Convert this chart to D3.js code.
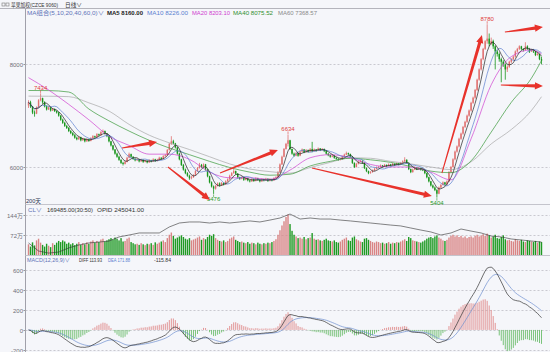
<!DOCTYPE html>
<html lang="zh">
<head>
<meta charset="UTF-8">
<title>苹果加权 日线</title>
<style>
  body { margin: 0; background: #f5f6fa; }
  svg { display: block; font-family: "Liberation Sans", "Noto Sans CJK SC", sans-serif; }
</style>
</head>
<body>
<script src="https://d3js.org/d3.v7.min.js"></script>
<script>
// daily bars (yuan/ton), 256 sessions
const open = [
  7200,7260,7180,7060,7040,7160,7300,7340,7260,7180,7120,7160,7100,7130,7090,7060,7000,6920,6860,6800,
  6760,6700,6660,6620,6570,6540,6580,6520,6550,6500,6540,6510,6560,6600,6580,6640,6620,6680,6700,6650,
  6600,6500,6420,6340,6260,6200,6140,6080,6060,6100,6180,6250,6200,6160,6130,6150,6110,6140,6100,6120,
  6090,6130,6110,6150,6120,6140,6180,6160,6210,6230,6330,6450,6500,6460,6380,6260,6150,6040,5950,5880,
  5830,5780,5800,5840,5920,5980,6040,6000,6050,5950,5820,5700,5620,5580,5630,5680,5640,5690,5660,5720,
  5760,5830,5880,5920,5870,5800,5770,5800,5750,5780,5740,5720,5760,5730,5780,5750,5720,5760,5740,5770,
  5730,5760,5740,5780,5800,5900,6050,6200,6350,6450,6520,6350,6260,6220,6270,6220,6300,6340,6290,6330,
  6300,6350,6310,6340,6320,6360,6330,6350,6310,6260,6230,6200,6220,6180,6160,6140,6150,6200,6240,6270,
  6250,6200,6080,6000,6060,6100,6120,6080,5980,5920,5880,5900,5930,5960,5990,6000,6030,6010,6040,6020,
  6050,6030,6060,6040,6070,6050,6080,6110,6140,6080,5960,5900,5950,5990,5960,5980,5950,5940,5880,5800,
  5720,5640,5600,5550,5480,5600,5650,5700,5660,5720,5900,6000,6150,6300,6400,6550,6650,6780,6880,7000,
  7100,7250,7350,7500,7700,7900,8100,8300,8450,8500,8400,8450,8350,8250,8200,8100,8050,8000,7900,7950,
  8050,8100,8150,8250,8300,8350,8300,8280,8350,8300,8250,8280,8250,8180,8200,8100
];
const high = [
  7300,7290,7190,7100,7180,7320,7434,7350,7280,7200,7180,7170,7150,7140,7100,7070,7010,6940,6880,6820,
  6780,6720,6680,6640,6590,6600,6590,6570,6560,6560,6550,6580,6620,6610,6660,6650,6700,6730,6710,6660,
  6610,6510,6430,6350,6280,6220,6150,6100,6120,6200,6280,6260,6210,6170,6170,6160,6160,6150,6140,6130,
  6150,6140,6170,6160,6160,6200,6190,6230,6250,6350,6470,6600,6530,6470,6390,6280,6160,6060,5970,5900,
  5850,5830,5860,5940,6000,6080,6060,6070,6060,5960,5830,5720,5640,5650,5700,5700,5710,5700,5740,5780,
  5850,5900,5960,5930,5880,5810,5820,5810,5800,5790,5750,5780,5770,5800,5790,5760,5780,5770,5790,5780,
  5780,5770,5800,5820,5920,6070,6220,6370,6470,6634,6530,6360,6280,6290,6280,6320,6360,6350,6350,6340,
  6370,6490,6360,6350,6380,6370,6370,6360,6320,6270,6240,6240,6230,6190,6170,6170,6220,6260,6300,6280,
  6260,6210,6090,6080,6120,6140,6130,6090,5990,5930,5920,5950,5980,6010,6020,6050,6040,6060,6050,6070,
  6060,6080,6070,6090,6080,6100,6130,6190,6150,6090,5970,5970,6010,6000,6000,5990,5970,5950,5890,5810,
  5730,5660,5620,5570,5620,5670,5720,5710,5740,5920,6020,6170,6320,6420,6570,6670,6800,6900,7020,7120,
  7270,7370,7520,7720,7920,8120,8320,8470,8780,8600,8520,8480,8370,8280,8230,8130,8080,8020,7980,8070,
  8120,8170,8270,8320,8370,8360,8310,8430,8370,8320,8300,8290,8260,8230,8210,8150
];
const low = [
  7150,7150,7030,6980,7030,7150,7280,7230,7160,7100,7110,7080,7090,7070,7040,6980,6900,6840,6780,6740,
  6680,6640,6600,6550,6520,6530,6500,6510,6480,6490,6490,6500,6550,6560,6570,6600,6610,6670,6630,6580,
  6480,6400,6320,6240,6180,6120,6060,6030,6050,6090,6170,6180,6140,6110,6120,6090,6100,6080,6090,6070,
  6080,6090,6100,6100,6110,6130,6140,6150,6200,6220,6320,6430,6440,6360,6240,6130,6020,5930,5860,5810,
  5750,5760,5790,5830,5910,5970,5980,5990,5930,5800,5680,5600,5476,5560,5620,5620,5630,5640,5650,5710,
  5750,5820,5870,5850,5780,5750,5760,5730,5740,5720,5700,5710,5710,5720,5730,5700,5710,5720,5730,5710,
  5720,5720,5730,5770,5790,5890,6040,6190,6340,6400,6330,6240,6200,6210,6200,6210,6290,6270,6280,6280,
  6290,6290,6300,6300,6310,6310,6320,6290,6240,6210,6180,6190,6160,6140,6120,6130,6140,6190,6230,6230,
  6180,6060,5980,5990,6050,6090,6060,5960,5900,5860,5870,5890,5920,5950,5980,5990,5990,6000,6000,6010,
  6010,6020,6020,6030,6030,6040,6070,6100,6060,5940,5880,5890,5940,5940,5950,5930,5920,5860,5780,5700,
  5620,5580,5530,5404,5470,5590,5640,5640,5650,5710,5880,5990,6130,6280,6380,6530,6630,6760,6860,6980,
  7080,7230,7330,7480,7680,7880,8080,8280,8400,8350,8380,8300,7900,8150,8050,7650,7950,7700,7850,7930,
  8020,8080,8130,8230,8280,8280,8250,8270,8280,8220,8240,8220,8160,8170,8080,8000
];
const close = [
  7260,7180,7060,7040,7160,7300,7340,7260,7180,7120,7160,7100,7130,7090,7060,7000,6920,6860,6800,6760,
  6700,6660,6620,6570,6540,6580,6520,6550,6500,6540,6510,6560,6600,6580,6640,6620,6680,6700,6650,6600,
  6500,6420,6340,6260,6200,6140,6080,6060,6100,6180,6250,6200,6160,6130,6150,6110,6140,6100,6120,6090,
  6130,6110,6150,6120,6140,6180,6160,6210,6230,6330,6450,6500,6460,6380,6260,6150,6040,5950,5880,5830,
  5780,5800,5840,5920,5980,6040,6000,6050,5950,5820,5700,5620,5580,5630,5680,5640,5690,5660,5720,5760,
  5830,5880,5920,5870,5800,5770,5800,5750,5780,5740,5720,5760,5730,5780,5750,5720,5760,5740,5770,5730,
  5760,5740,5780,5800,5900,6050,6200,6350,6450,6520,6350,6260,6220,6270,6220,6300,6340,6290,6330,6300,
  6350,6310,6340,6320,6360,6330,6350,6310,6260,6230,6200,6220,6180,6160,6140,6150,6200,6240,6270,6250,
  6200,6080,6000,6060,6100,6120,6080,5980,5920,5880,5900,5930,5960,5990,6000,6030,6010,6040,6020,6050,
  6030,6060,6040,6070,6050,6080,6110,6140,6080,5960,5900,5950,5990,5960,5980,5950,5940,5880,5800,5720,
  5640,5600,5550,5480,5600,5650,5700,5660,5720,5900,6000,6150,6300,6400,6550,6650,6780,6880,7000,7100,
  7250,7350,7500,7700,7900,8100,8300,8450,8500,8400,8450,8350,8250,8200,8100,8050,8000,7900,7950,8050,
  8100,8150,8250,8300,8350,8300,8280,8350,8300,8250,8280,8250,8180,8200,8100,8070
];
// volume, 万手
const volume = [
  38,30,45,34,52,58,44,36,30,40,33,28,42,36,44,50,46,52,48,40,
  44,38,42,35,40,46,36,42,38,45,40,48,52,44,50,46,55,58,48,52,
  56,60,55,62,58,52,60,48,50,58,62,46,42,38,40,36,42,38,35,40,
  38,42,36,45,40,44,48,52,46,60,72,80,68,58,62,66,70,64,58,55,
  60,52,55,58,62,66,54,60,56,64,72,68,74,60,54,50,48,52,46,50,
  58,62,66,54,50,46,48,44,42,46,40,44,42,38,44,40,38,42,40,44,
  42,46,50,56,72,88,105,120,135,144,110,86,72,66,60,62,58,64,56,60,
  62,78,58,54,56,52,50,54,58,52,50,48,52,46,44,48,54,58,62,52,
  50,62,66,56,52,48,46,58,60,54,50,46,44,48,46,42,44,40,42,46,
  40,44,42,46,44,48,52,56,50,64,60,52,50,48,46,44,48,52,58,62,
  64,60,66,70,62,58,52,50,54,62,68,72,66,70,64,68,62,66,60,64,
  66,62,68,72,66,70,74,68,76,70,62,66,72,60,58,64,70,56,52,54,
  50,48,56,52,50,54,48,46,52,50,48,46,50,44,48,46
];
// open interest (万手), one reading every 5 sessions
const openInterest = [
  23.9,18.4,17.0,17.7,20.5,22.5,23.9,24.5,25.2,28.0,29.3,30.7,30.7,30.7,34.8,37.5,38.2,38.2,37.5,38.2,
  37.5,38.2,38.9,38.2,39.5,40.9,43.6,40.2,40.9,40.2,40.2,39.5,38.9,38.2,37.5,36.8,36.1,35.5,34.1,32.7,
  31.4,29.3,30.7,33.4,32.0,30.7,28.6,28.0,26.6,25.9,25.2,24.5
];
// MA20 / MA40 / MA60, one reading every 10 sessions
const maSampleIdx = [0,10,20,30,40,50,60,70,80,90,100,110,120,130,140,150,160,170,180,190,200,210,220,230,240,250,255];
const ma20Read = [7740,7500,7220,6920,6600,6420,6250,6250,6150,5900,5790,5790,5760,5940,6180,6240,6180,6050,6000,6000,5900,5750,6550,7600,8150,8280,8203];
const ma40Read = [7490,7488,7460,7130,6900,6700,6520,6370,6240,6110,5990,5900,5840,5860,6020,6110,6170,6140,6090,6010,5920,5890,6120,6680,7260,7730,8075];
const ma60Read = [7380,7378,7370,7250,7090,6830,6620,6470,6340,6200,6060,5960,5910,5880,5990,6090,6180,6170,6110,6060,6000,5950,6100,6450,6730,7100,7369];

const priceTicks = [6000, 8000];
const volTicks = [72, 144];
const macdTicks = [-200, 0, 200, 400, 600];

// marked highs / lows
const marks = [
  {i: 6, type: "high"}, {i: 92, type: "low"}, {i: 129, type: "high"},
  {i: 203, type: "low"}, {i: 228, type: "high"}
];
// hand drawn arrows, [session, price] -> [session, price]
const arrows = [
  [[46.5, 6370], [63.9, 6487]],
  [[69.3, 6000], [90.2, 5357]],
  [[95.2, 5883], [124, 6331]],
  [[140.9, 5980], [200.5, 5435]],
  [[205.5, 5883], [225.4, 8571]],
  [[236.8, 8629], [255.7, 8726]],
  [[234.8, 7595], [255.7, 7575]]
];

const W = 550, H = 352;
const axisX = 25.5;
const upColor = "#e0706f", downColor = "#18951c";
const FONT = "'Liberation Sans', 'Noto Sans CJK SC', sans-serif";

const svg = d3.select("body").append("svg")
  .attr("width", W).attr("height", H)
  .style("background", "#f5f6fa");

const N = close.length;
const x = d3.scaleLinear().domain([0, N - 1]).range([28.5, 541.5]);
const step = x(1) - x(0);
const bodyW = Math.max(1, step * 0.7);

const y = d3.scaleLinear().domain([6000, 8000]).range([167, 64.3]);
const yVol = d3.scaleLinear().domain([0, 144]).range([255, 214.5]);
const yOI = d3.scaleLinear().domain([15, 45]).range([256, 212]);
const yMacd = d3.scaleLinear().domain([-200, 600]).range([350, 269.7]);

// clip paths for the three panels
const defs = svg.append("defs");
function clip(id, y0, y1) {
  defs.append("clipPath").attr("id", id).append("rect")
    .attr("x", axisX).attr("y", y0).attr("width", W - axisX).attr("height", y1 - y0);
}
clip("cMain", 9, 204);
clip("cVol", 205, 255);
clip("cMacd", 256, H);

// frame lines
svg.append("line").attr("x1", 0).attr("x2", W).attr("y1", 8.5).attr("y2", 8.5).attr("stroke", "#b4b4bc");
svg.append("line").attr("x1", axisX).attr("x2", axisX).attr("y1", 8.5).attr("y2", H).attr("stroke", "#a0a0aa");
[204.5, 255.5].forEach(v => {
  svg.append("line").attr("x1", axisX).attr("x2", W).attr("y1", v).attr("y2", v).attr("stroke", "#c4c4cc");
});

// header icon
[2, 6].forEach(px => {
  svg.append("rect").attr("x", px).attr("y", 3).attr("width", 3).attr("height", 3)
    .attr("fill", "none").attr("stroke", "#777").attr("stroke-width", 0.6);
});

// header texts, squeezed to the widths they take in the picture
function label(xp, yp, txt, color, len, size) {
  return svg.append("text").attr("x", xp).attr("y", yp).attr("font-size", size || 5.8)
    .attr("fill", color).attr("textLength", len).attr("lengthAdjust", "spacingAndGlyphs")
    .style("font-family", FONT).text(txt);
}
label(11, 6.6, "苹果加权(CZCE 9060)", "#333", 47, 5.5);
label(65, 6.6, "日线∨", "#333", 17, 5.5);
label(27, 15, "MA组合(5,10,20,40,60,0)∨", "#5f73b8", 77);
label(107, 15, "MA5 8160.00", "#222", 36).attr("font-weight", "bold");
label(147, 15, "MA10 8226.00", "#5b7fd0", 41);
label(192, 15, "MA20 8203.10", "#d040d0", 38);
label(233, 15, "MA40 8075.52", "#2f8f2f", 40);
label(278, 15, "MA60 7368.57", "#8a8a8a", 39);

label(26, 203, "200天", "#2b3550", 15, 5.6);
label(28, 211.5, "CL∨", "#5f73b8", 14);
label(47, 211.5, "169485.00(30:50)", "#333", 46);
label(97, 211.5, "OPID 245041.00", "#333", 47);
label(27, 261.5, "MACD(12,26,9)∨", "#5f73b8", 43);
label(79, 261.5, "DIFF 113.93", "#333", 23, 5.4);
label(108, 261.5, "DEA 171.88", "#5b7fd0", 22, 5.4);
label(154, 261.5, "-115.84", "#333", 17);

// gridlines + axis labels
function grid(scale, ticks, fmt) {
  ticks.forEach(t => {
    const yy = Math.round(scale(t)) + 0.5;
    svg.append("line").attr("x1", axisX).attr("x2", W).attr("y1", yy).attr("y2", yy)
      .attr("stroke", "#c9c9d0").attr("stroke-dasharray", "2,2");
    svg.append("line").attr("x1", axisX - 2).attr("x2", axisX).attr("y1", yy).attr("y2", yy).attr("stroke", "#999");
    svg.append("text").attr("x", axisX - 2.5).attr("y", yy + 2).attr("text-anchor", "end")
      .attr("font-size", 6).attr("fill", "#707078")
      .style("font-family", FONT).text(fmt(t));
  });
}
grid(y, priceTicks, d => d);
grid(yVol, volTicks, d => d + "万");
grid(yMacd, macdTicks, d => d);

// candles
const gMain = svg.append("g").attr("clip-path", "url(#cMain)");
const idx = d3.range(N);
const col = i => close[i] >= open[i] ? upColor : downColor;
gMain.selectAll("line.wick").data(idx).join("line").attr("class", "wick")
  .attr("x1", i => x(i)).attr("x2", i => x(i))
  .attr("y1", i => y(high[i])).attr("y2", i => y(low[i]))
  .attr("stroke", col).attr("stroke-width", 0.8);
gMain.selectAll("rect.body").data(idx).join("rect").attr("class", "body")
  .attr("x", i => x(i) - bodyW / 2).attr("width", bodyW)
  .attr("y", i => y(Math.max(open[i], close[i])))
  .attr("height", i => Math.max(0.8, Math.abs(y(open[i]) - y(close[i]))))
  .attr("fill", col);

// moving averages: MA5 / MA10 from the closes, slower ones from the readings
function sma(n) {
  return close.map((c, i) => d3.mean(close.slice(Math.max(0, i - n + 1), i + 1)));
}
const lineIdx = d3.line().x((d, i) => x(i)).y(d => y(d));
const lineRead = d3.line().x(d => x(d[0])).y(d => y(d[1])).curve(d3.curveMonotoneX);
const maLines = [
  {d: lineRead(maSampleIdx.map((k, j) => [k, ma60Read[j]])), c: "#a8a8a8"},
  {d: lineRead(maSampleIdx.map((k, j) => [k, ma40Read[j]])), c: "#3a9a3a"},
  {d: lineRead(maSampleIdx.map((k, j) => [k, ma20Read[j]])), c: "#d040d0"},
  {d: lineIdx(sma(10)), c: "#5b7fd0"},
  {d: lineIdx(sma(5)), c: "#222"}
];
gMain.selectAll("path.ma").data(maLines).join("path").attr("class", "ma")
  .attr("d", d => d.d).attr("fill", "none").attr("stroke", d => d.c).attr("stroke-width", 0.7);

// high / low markers
const gMarks = svg.append("g");
marks.forEach(m => {
  const isHigh = m.type === "high";
  const v = isHigh ? high[m.i] : low[m.i];
  const yy = y(v);
  const c = isHigh ? "#e0403a" : "#2a9a2a";
  gMarks.append("line").attr("x1", x(m.i)).attr("x2", x(m.i))
    .attr("y1", yy + (isHigh ? -0.5 : 0.5)).attr("y2", yy + (isHigh ? -3 : 3)).attr("stroke", c).attr("stroke-width", 0.6);
  gMarks.append("text").attr("x", x(m.i)).attr("y", isHigh ? yy - 3.5 : yy + 7.5)
    .attr("text-anchor", "middle").attr("font-size", 6).attr("fill", c)
    .style("font-family", FONT).text(v);
});

// red hand-drawn arrows
function arrowPath(a) {
  const x0 = x(a[0][0]), y0 = y(a[0][1]), x1 = x(a[1][0]), y1 = y(a[1][1]);
  const len = Math.hypot(x1 - x0, y1 - y0);
  const ux = (x1 - x0) / len, uy = (y1 - y0) / len, nx = -uy, ny = ux;
  const hl = 8, bw = 1.6, hw = 3.6;
  const bx = x1 - ux * hl, by = y1 - uy * hl;
  const pts = [
    [x0 + nx * 0.5, y0 + ny * 0.5], [bx + nx * bw, by + ny * bw], [bx + nx * hw, by + ny * hw],
    [x1, y1], [bx - nx * hw, by - ny * hw], [bx - nx * bw, by - ny * bw], [x0 - nx * 0.5, y0 - ny * 0.5]
  ];
  return "M" + pts.map(p => p.join(",")).join("L") + "Z";
}
svg.append("g").attr("clip-path", "url(#cMain)").selectAll("path").data(arrows).join("path")
  .attr("d", arrowPath).attr("fill", "#e8322b");

// volume + open interest
const gVol = svg.append("g").attr("clip-path", "url(#cVol)");
gVol.selectAll("rect").data(idx).join("rect")
  .attr("x", i => x(i) - bodyW / 2).attr("width", bodyW)
  .attr("y", i => yVol(volume[i])).attr("height", i => yVol(0) - yVol(volume[i]))
  .attr("fill", i => close[i] >= open[i] ? "#d98585" : "#1f9a23");
gVol.append("path")
  .attr("d", d3.line().x((d, k) => x(Math.min(k * 5, N - 1))).y(d => yOI(d))(openInterest))
  .attr("fill", "none").attr("stroke", "#333").attr("stroke-width", 0.6);

// MACD from the closes
function emaSeries(arr, n) {
  const a = 2 / (n + 1);
  const out = [];
  arr.forEach((v, i) => out.push(i === 0 ? v : out[i - 1] * (1 - a) + v * a));
  return out;
}
const e12 = emaSeries(close, 12), e26 = emaSeries(close, 26);
const diff = close.map((c, i) => e12[i] - e26[i]);
const dea = emaSeries(diff, 9);
const hist = diff.map((d, i) => 2 * (d - dea[i]));

const gMacd = svg.append("g").attr("clip-path", "url(#cMacd)");
gMacd.selectAll("line").data(idx).join("line")
  .attr("x1", i => x(i)).attr("x2", i => x(i))
  .attr("y1", yMacd(0)).attr("y2", i => yMacd(hist[i]))
  .attr("stroke", i => hist[i] >= 0 ? "#e08a8a" : "#6cbd6c").attr("stroke-width", 0.9);
const lineMacd = d3.line().x((d, i) => x(i)).y(d => yMacd(d));
gMacd.append("path").attr("d", lineMacd(dea))
  .attr("fill", "none").attr("stroke", "#6f8fd0").attr("stroke-width", 0.7);
gMacd.append("path").attr("d", lineMacd(diff))
  .attr("fill", "none").attr("stroke", "#333").attr("stroke-width", 0.7);
</script>
</body>
</html>
